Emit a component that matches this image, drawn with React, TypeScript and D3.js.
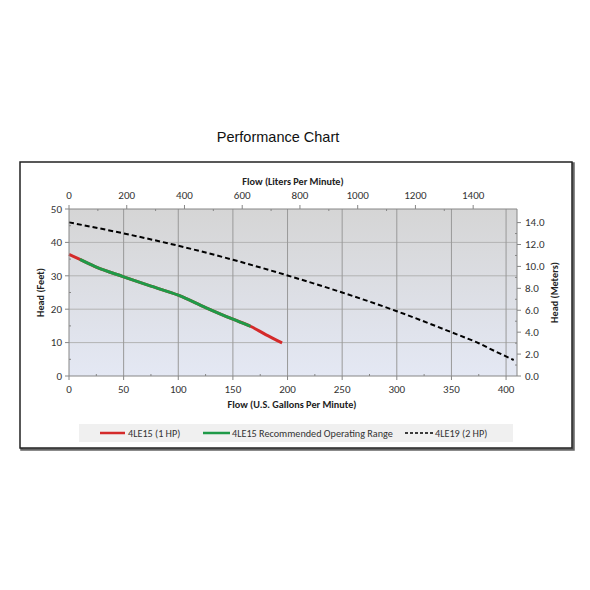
import * as d3 from 'd3';

// Flow in U.S. gallons per minute, head in feet
const gpm4LE15 = [0, 10, 25, 50, 75, 100, 125, 150, 166, 180, 195];
const head4LE15 = [36.4, 34.9, 32.6, 29.7, 26.9, 24.2, 20.5, 17.0, 14.9, 12.4, 9.9];
// recommended operating range = points 1..8 of the 4LE15 curve
const rangeStart = 1;
const rangeEnd = 8;

const gpm4LE19 = [0, 50, 100, 150, 200, 250, 300, 350, 375, 390, 407];
const head4LE19 = [46.0, 42.7, 39.0, 34.8, 30.1, 25.0, 19.4, 13.1, 9.8, 7.4, 4.8];

const gpmTicks = [0, 50, 100, 150, 200, 250, 300, 350, 400];
const feetTicks = [0, 10, 20, 30, 40, 50];
const literTicks = [0, 200, 400, 600, 800, 1000, 1200, 1400];
const meterTicks = [0, 2, 4, 6, 8, 10, 12, 14];

const LPM_PER_GPM = 3.785;
const M_PER_FT = 0.3048;

const W = 590;
const H = 590;
const PLOT = { left: 69, right: 517, top: 209, bottom: 376 };
const FONT = 'Carlito, Calibri, Lato, sans-serif';
const AXIS = '#868686';

export default function App() {
  const x = d3.scaleLinear().domain([0, 410]).range([PLOT.left, PLOT.right]);
  const xL = d3.scaleLinear().domain([0, 410 * LPM_PER_GPM]).range([PLOT.left, PLOT.right]);
  const y = d3.scaleLinear().domain([0, 50]).range([PLOT.bottom, PLOT.top]);
  const yM = d3.scaleLinear().domain([0, 50 * M_PER_FT]).range([PLOT.bottom, PLOT.top]);

  const line = d3
    .line<[number, number]>()
    .x((d) => x(d[0]))
    .y((d) => y(d[1]))
    .curve(d3.curveMonotoneX);

  const pts15 = gpm4LE15.map((g, i) => [g, head4LE15[i]] as [number, number]);
  const ptsRange = pts15.slice(rangeStart, rangeEnd + 1);
  const pts19 = gpm4LE19.map((g, i) => [g, head4LE19[i]] as [number, number]);

  const minorGpm = d3.range(25, 410, 50);
  const minorFeet = d3.range(5, 50, 10);
  const minorLiters = d3.range(100, 1500, 200);
  const minorMeters = d3.range(1, 15, 2);

  const midY = (PLOT.top + PLOT.bottom) / 2;

  return (
    <svg
      width={W}
      height={H}
      style={{ position: 'absolute', left: 0, top: 0, background: '#fff' }}
      fontFamily={FONT}
    >
      <defs>
        <linearGradient id="plotBg" x1="0" y1="0" x2="0" y2="1">
          <stop offset="0%" stopColor="#d5d5d5" />
          <stop offset="100%" stopColor="#e4e8f4" />
        </linearGradient>
      </defs>

      <text x={278} y={142} textAnchor="middle" fontFamily="'Liberation Sans', Arial, sans-serif" fontSize={14.5} fill="#111">
        Performance Chart
      </text>

      {/* frame with shadow */}
      <rect x={21.5} y={163.5} width={552} height={286} fill="none" stroke="#666" strokeWidth={2.5} />
      <rect x={20} y={162} width={552} height={286} fill="#fff" stroke="#222" strokeWidth={1.5} />

      <rect
        x={PLOT.left}
        y={PLOT.top}
        width={PLOT.right - PLOT.left}
        height={PLOT.bottom - PLOT.top}
        fill="url(#plotBg)"
      />

      {/* gridlines */}
      {feetTicks.slice(1, -1).map((t) => (
        <line key={`hg${t}`} x1={PLOT.left} x2={PLOT.right} y1={y(t)} y2={y(t)} stroke="#b3b3b3" strokeWidth={1} />
      ))}
      {gpmTicks.slice(1).map((t) => (
        <line key={`vg${t}`} x1={x(t)} x2={x(t)} y1={PLOT.top} y2={PLOT.bottom} stroke="#999" strokeWidth={1} />
      ))}

      {/* curves */}
      <path d={line(pts19) ?? ''} fill="none" stroke="#000" strokeWidth={2} strokeDasharray="5,3" />
      <path d={line(pts15) ?? ''} fill="none" stroke="#d42a2a" strokeWidth={3} />
      <path d={line(ptsRange) ?? ''} fill="none" stroke="#1f9a48" strokeWidth={3} />

      {/* axes lines */}
      <line x1={PLOT.left} x2={PLOT.left} y1={PLOT.top} y2={PLOT.bottom} stroke={AXIS} />
      <line x1={PLOT.right} x2={PLOT.right} y1={PLOT.top} y2={PLOT.bottom} stroke={AXIS} />
      <line x1={PLOT.left} x2={PLOT.right} y1={PLOT.bottom} y2={PLOT.bottom} stroke={AXIS} />
      <line x1={PLOT.left} x2={PLOT.right} y1={PLOT.top} y2={PLOT.top} stroke={AXIS} />

      {/* left axis: feet */}
      {feetTicks.map((t) => (
        <g key={`lf${t}`}>
          <line x1={PLOT.left - 4} x2={PLOT.left} y1={y(t)} y2={y(t)} stroke={AXIS} />
          <text x={62} y={y(t)} dy="0.35em" textAnchor="end" fontSize={11} fill="#333">
            {t}
          </text>
        </g>
      ))}
      {minorFeet.map((t) => (
        <line key={`lm${t}`} x1={PLOT.left} x2={PLOT.left + 2} y1={y(t)} y2={y(t)} stroke={AXIS} />
      ))}

      {/* right axis: meters */}
      {meterTicks.map((t) => (
        <g key={`rm${t}`}>
          <line x1={PLOT.right} x2={PLOT.right + 4} y1={yM(t)} y2={yM(t)} stroke={AXIS} />
          <text x={525} y={yM(t)} dy="0.35em" textAnchor="start" fontSize={11} fill="#333">
            {t.toFixed(1)}
          </text>
        </g>
      ))}
      {minorMeters.map((t) => (
        <line key={`rmm${t}`} x1={PLOT.right - 2} x2={PLOT.right} y1={yM(t)} y2={yM(t)} stroke={AXIS} />
      ))}

      {/* bottom axis: gpm */}
      {gpmTicks.map((t) => (
        <g key={`bg${t}`}>
          <line x1={x(t)} x2={x(t)} y1={PLOT.bottom} y2={PLOT.bottom + 4} stroke={AXIS} />
          <text x={x(t)} y={393} textAnchor="middle" fontSize={11} fill="#333">
            {t}
          </text>
        </g>
      ))}
      {minorGpm.map((t) => (
        <line key={`bm${t}`} x1={x(t)} x2={x(t)} y1={PLOT.bottom - 2} y2={PLOT.bottom} stroke={AXIS} />
      ))}

      {/* top axis: liters */}
      {literTicks.map((t) => (
        <g key={`tl${t}`}>
          <line x1={xL(t)} x2={xL(t)} y1={PLOT.top - 4} y2={PLOT.top} stroke={AXIS} />
          <text x={xL(t)} y={199} textAnchor="middle" fontSize={11} fill="#333">
            {t}
          </text>
        </g>
      ))}
      {minorLiters.map((t) => (
        <line key={`tm${t}`} x1={xL(t)} x2={xL(t)} y1={PLOT.top} y2={PLOT.top + 2} stroke={AXIS} />
      ))}

      {/* axis titles */}
      <text x={293} y={185} textAnchor="middle" fontSize={10.2} fontWeight="bold" fill="#222">
        Flow (Liters Per Minute)
      </text>
      <text x={292} y={408} textAnchor="middle" fontSize={10.2} fontWeight="bold" fill="#222">
        Flow (U.S. Gallons Per Minute)
      </text>
      <text
        transform={`translate(44,${midY}) rotate(-90)`}
        textAnchor="middle"
        fontSize={10.2}
        fontWeight="bold"
        fill="#222"
      >
        Head (Feet)
      </text>
      <text
        transform={`translate(558,${midY}) rotate(-90)`}
        textAnchor="middle"
        fontSize={10.2}
        fontWeight="bold"
        fill="#222"
      >
        Head (Meters)
      </text>

      {/* legend */}
      <rect x={79} y={424} width={434} height={18} fill="#f0f0f0" />
      <line x1={100} x2={125} y1={433} y2={433} stroke="#d42a2a" strokeWidth={2.5} />
      <text x={128} y={433} dy="0.35em" fontSize={10.2} fill="#333">
        4LE15 (1 HP)
      </text>
      <line x1={203} x2={230} y1={433} y2={433} stroke="#1f9a48" strokeWidth={2.5} />
      <text x={232} y={433} dy="0.35em" fontSize={10.2} fill="#333">
        4LE15 Recommended Operating Range
      </text>
      <line x1={405} x2={433} y1={433} y2={433} stroke="#000" strokeWidth={1.5} strokeDasharray="3,2" />
      <text x={435} y={433} dy="0.35em" fontSize={10.2} fill="#333">
        4LE19 (2 HP)
      </text>
    </svg>
  );
}
